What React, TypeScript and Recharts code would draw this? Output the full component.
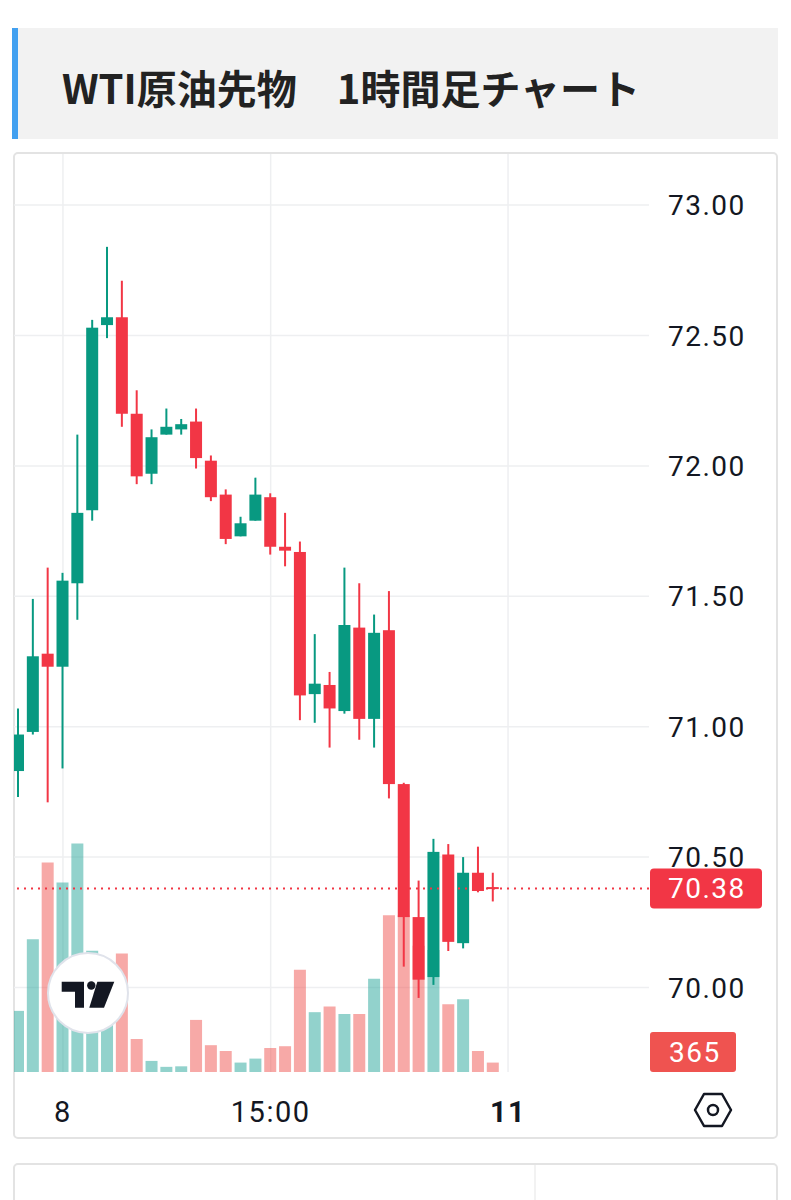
import React from "react";
import {
  ComposedChart,
  Bar,
  Cell,
  XAxis,
  YAxis,
  CartesianGrid,
  ReferenceLine,
} from "recharts";

// 1時間足 OHLC
const opens = [
  70.83, 70.98, 71.28, 71.23, 71.55, 71.83, 72.54, 72.57, 72.2, 71.97, 72.12,
  72.14, 72.17, 72.02, 71.89, 71.73, 71.79, 71.88, 71.69, 71.67, 71.125, 71.16,
  71.06, 71.38, 71.03, 71.37, 70.78, 70.27, 70.04, 70.51, 70.17, 70.44, 70.385,
];
const highs = [
  71.07, 71.49, 71.61, 71.59, 72.12, 72.56, 72.84, 72.71, 72.29, 72.14, 72.22,
  72.18, 72.22, 72.04, 71.91, 71.805, 71.955, 71.895, 71.82, 71.71, 71.355,
  71.21, 71.61, 71.55, 71.43, 71.52, 70.785, 70.41, 70.57, 70.55, 70.5, 70.54,
  70.44,
];
const lows = [
  70.73, 70.97, 70.71, 70.84, 71.41, 71.79, 72.49, 72.15, 71.93, 71.93, 72.12,
  72.12, 71.99, 71.865, 71.7, 71.73, 71.79, 71.66, 71.615, 71.025, 71.015,
  70.92, 71.05, 70.95, 70.92, 70.725, 70.08, 69.96, 70.01, 70.14, 70.15, 70.365,
  70.33,
];
const closes = [
  70.97, 71.27, 71.23, 71.56, 71.82, 72.53, 72.57, 72.2, 71.96, 72.11, 72.15,
  72.16, 72.03, 71.88, 71.72, 71.78, 71.89, 71.69, 71.675, 71.12, 71.165, 71.07,
  71.39, 71.03, 71.36, 70.78, 70.27, 70.03, 70.52, 70.175, 70.44, 70.37, 70.38,
];
const volumes = [
  2370, 5150, 8120, 7350, 8860, 4700, 3370, 4600, 1280, 430, 200, 220, 2020,
  1040, 815, 365, 520, 930, 1000, 3970, 2320, 2540, 2250, 2250, 3620, 6080, 6080,
  4900, 4730, 2630, 2820, 815, 365,
];

const SLOTS = 43; // visible bar slots incl. empty space on the right
const LAST_PRICE = 70.38;
const LAST_VOLUME = 365;
const PRICE_TICKS = [70, 70.5, 71, 71.5, 72, 72.5, 73];
const TIME_TICKS = [3, 17, 33];
const TIME_LABELS = ["8", "15:00", "11"];

const UP = "#089981";
const DOWN = "#f23645";
const UP_VOL = "rgba(38,166,154,0.5)";
const DOWN_VOL = "rgba(239,83,80,0.5)";
const FONT = "Roboto, 'Noto Sans', sans-serif";

const data = Array.from({ length: SLOTS }, (_, i) => ({
  slot: i,
  open: opens[i] ?? null,
  high: highs[i] ?? null,
  low: lows[i] ?? null,
  close: closes[i] ?? null,
  volume: volumes[i] ?? null,
}));

const Candle = (props: any) => {
  const { x, y, width, height, payload } = props;
  if (payload.open == null) return null;
  const { open, close, high, low } = payload;
  const color = close >= open ? UP : DOWN;
  const k = height / (high - low);
  const top = y + (high - Math.max(open, close)) * k;
  const bodyH = Math.max(Math.abs(open - close) * k, 2);
  const cx = x + width / 2;
  return (
    <g>
      <line x1={cx} x2={cx} y1={y} y2={y + height} stroke={color} strokeWidth={2} />
      <rect x={x} y={top} width={width} height={bodyH} fill={color} />
    </g>
  );
};

const PriceTick = (props: any) => {
  const { x, y, payload } = props;
  return (
    <text
      x={x}
      y={y}
      dy={10}
      textAnchor="start"
      fontSize={28}
      letterSpacing={1.5}
      fill="#131722"
      fontFamily={FONT}
    >
      {payload.value.toFixed(2)}
    </text>
  );
};

const TimeTick = (props: any) => {
  const { x, y, payload } = props;
  const idx = TIME_TICKS.indexOf(payload.value);
  return (
    <text
      x={x}
      y={y + 48}
      textAnchor="middle"
      fontSize={29}
      letterSpacing={1.5}
      fontWeight={idx === 2 ? 700 : 400}
      fill="#131722"
      fontFamily={FONT}
    >
      {TIME_LABELS[idx]}
    </text>
  );
};

const PriceLabel = (props: any) => {
  const { viewBox } = props;
  const x = viewBox.x + viewBox.width + 1;
  return (
    <g>
      <rect x={x} y={viewBox.y - 20} width={112} height={40} rx={4} fill={DOWN} />
      <text x={x + 18} y={viewBox.y + 10} fontSize={28} letterSpacing={1.5} fill="#fff" fontFamily={FONT}>
        {LAST_PRICE.toFixed(2)}
      </text>
    </g>
  );
};

const VolumeLabel = (props: any) => {
  const { viewBox } = props;
  const x = viewBox.x + viewBox.width + 1;
  const top = Math.min(viewBox.y - 20, 919 - 40);
  return (
    <g>
      <rect x={x} y={top} width={86} height={40} rx={3} fill="#ef5350" />
      <text x={x + 19} y={top + 30} fontSize={28} letterSpacing={1.5} fill="#fff" fontFamily={FONT}>
        {LAST_VOLUME}
      </text>
    </g>
  );
};

const App: React.FC = () => {
  return (
    <div
      style={{
        position: "absolute",
        left: 0,
        top: 0,
        width: 791,
        height: 1200,
        background: "#fff",
        overflow: "hidden",
      }}
    >
      {/* title */}
      <div style={{ position: "absolute", left: 12, top: 28, width: 766, height: 111, background: "#f2f2f2" }} />
      <div style={{ position: "absolute", left: 12, top: 28, width: 6, height: 111, background: "#42a0f0" }} />
      <div
        style={{
          position: "absolute",
          left: 62,
          top: 67,
          fontSize: 40,
          lineHeight: "40px",
          fontWeight: 700,
          color: "#222",
          fontFamily: "'Noto Sans CJK JP', sans-serif",
          whiteSpace: "nowrap",
        }}
      >
        WTI原油先物　1時間足チャート
      </div>

      {/* chart card */}
      <div
        style={{
          position: "absolute",
          left: 13,
          top: 152,
          width: 765,
          height: 987,
          border: "2px solid #e3e3e3",
          borderRadius: 5,
          boxSizing: "border-box",
        }}
      />
      <div style={{ position: "absolute", left: 14, top: 153, width: 762, height: 984, overflow: "hidden" }}>
        <div style={{ position: "absolute", left: -3, top: 0 }}>
          <ComposedChart
            width={766}
            height={985}
            data={data}
            margin={{ top: 1, right: 0, bottom: 0, left: 0 }}
          >
            <CartesianGrid
              xAxisId="p"
              yAxisId="p"
              stroke="#eeeff1"
              strokeWidth={1.5}
              syncWithTicks
            />
            <XAxis
              xAxisId="p"
              dataKey="slot"
              ticks={TIME_TICKS}
              interval={0}
              height={66}
              axisLine={false}
              tickLine={false}
              tickSize={0}
              tick={<TimeTick />}
            />
            <XAxis xAxisId="v" dataKey="slot" hide />
            <YAxis
              yAxisId="p"
              orientation="right"
              width={128}
              domain={[69.676, 73.196]}
              ticks={PRICE_TICKS}
              allowDataOverflow
              axisLine={false}
              tickLine={false}
              tickSize={0}
              tickMargin={19}
              tick={<PriceTick />}
            />
            <YAxis yAxisId="v" domain={[0, 35600]} hide />
            <Bar
              xAxisId="v"
              yAxisId="v"
              dataKey="volume"
              barSize={12}
              isAnimationActive={false}
            >
              {data.map((d, i) => (
                <Cell key={i} fill={d.close != null && d.close >= d.open! ? UP_VOL : DOWN_VOL} />
              ))}
            </Bar>
            <ReferenceLine
              xAxisId="p"
              yAxisId="p"
              y={LAST_PRICE}
              stroke={DOWN}
              strokeWidth={2}
              strokeDasharray="2 5"
              label={<PriceLabel />}
            />
            <Bar
              xAxisId="p"
              yAxisId="p"
              dataKey={(d: any) => (d.open == null ? null : [d.low, d.high])}
              barSize={12}
              shape={<Candle />}
              isAnimationActive={false}
            />
            <ReferenceLine
              xAxisId="v"
              yAxisId="v"
              y={LAST_VOLUME}
              stroke="none"
              label={<VolumeLabel />}
            />
          </ComposedChart>
        </div>
      </div>

      {/* TradingView logo */}
      <svg style={{ position: "absolute", left: 46, top: 951 }} width={84} height={84}>
        <circle cx={42} cy={42} r={40} fill="#fff" stroke="#e0e3eb" strokeWidth={2} />
        <path d="M15.7,30.7 H38 V56.7 H29 V40.7 H15.7 Z" fill="#131722" />
        <circle cx={45.3} cy={34.5} r={4.2} fill="#131722" />
        <path d="M51.3,30.7 H68.3 L58,56.7 H43.3 Z" fill="#131722" />
      </svg>

      {/* settings icon */}
      <svg style={{ position: "absolute", left: 693, top: 1090 }} width={40} height={40}>
        <path d="M2,20 L11,4 H29 L38,20 L29,36 H11 Z" fill="none" stroke="#131722" strokeWidth={2.5} strokeLinejoin="round" />
        <circle cx={20} cy={20} r={5} fill="none" stroke="#131722" strokeWidth={2.5} />
      </svg>

      {/* next card (cut off) */}
      <div
        style={{
          position: "absolute",
          left: 13,
          top: 1163,
          width: 765,
          height: 80,
          border: "2px solid #e3e3e3",
          borderRadius: 5,
          boxSizing: "border-box",
        }}
      />
      <div style={{ position: "absolute", left: 534, top: 1165, width: 2, height: 40, background: "#f2f2f2" }} />
    </div>
  );
};

export default App;
